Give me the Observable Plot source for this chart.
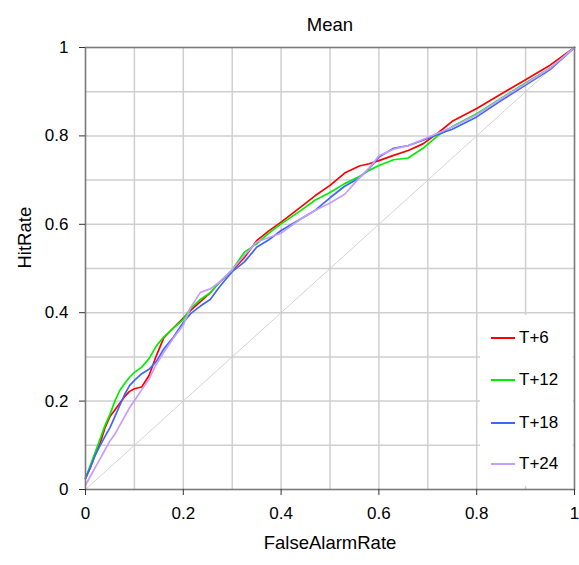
<!DOCTYPE html>
<html>
<head>
<meta charset="utf-8">
<script src="https://cdn.jsdelivr.net/npm/d3@7"></script>
<script src="https://cdn.jsdelivr.net/npm/@observablehq/plot@0.6"></script>
<style>
  html, body { margin: 0; padding: 0; background: #fff; }
  #wrap { position: relative; width: 579px; height: 565px; font-family: "Liberation Sans", Arial, sans-serif; }
  #legend { position: absolute; left: 480px; top: 315px; width: 93px; height: 171px; background: #fff; }
  .item { position: absolute; left: 0; height: 20px; display: flex; align-items: center; font-size: 17px; color: #000; }
  .sw { width: 24px; height: 2px; margin-left: 11px; margin-right: 4px; }
</style>
</head>
<body>
<div id="wrap"><div id="legend"></div></div>
<script>
const title = "Mean";
const xLabel = "FalseAlarmRate";
const yLabel = "HitRate";
const seriesNames = ["T+6", "T+12", "T+18", "T+24"];
const seriesColors = ["#ff0000", "#00ee00", "#3d66ff", "#c69dff"];
const tickValues = [0, 0.2, 0.4, 0.6, 0.8, 1];
const tickLabels = ["0", "0.2", "0.4", "0.6", "0.8", "1"];
const gridValues = [0.1, 0.2, 0.3, 0.4, 0.5, 0.6, 0.7, 0.8, 0.9];
const diagX = [0, 1];
const diagY = [0, 1];

const falseAlarm = [0, 0.01, 0.02, 0.03, 0.04, 0.05, 0.06, 0.07, 0.08, 0.09, 0.1, 0.115, 0.13, 0.145, 0.16, 0.18, 0.2, 0.215, 0.235, 0.255, 0.275, 0.3, 0.325, 0.35, 0.375, 0.4, 0.44, 0.47, 0.5, 0.53, 0.56, 0.58, 0.6, 0.63, 0.66, 0.69, 0.72, 0.75, 0.8, 0.85, 0.9, 0.95, 1];
const hitT6  = [0.025, 0.05, 0.08, 0.105, 0.14, 0.165, 0.18, 0.195, 0.21, 0.222, 0.228, 0.232, 0.258, 0.303, 0.343, 0.366, 0.388, 0.405, 0.425, 0.445, 0.47, 0.495, 0.525, 0.563, 0.585, 0.605, 0.639, 0.665, 0.688, 0.716, 0.732, 0.737, 0.744, 0.756, 0.767, 0.782, 0.806, 0.833, 0.862, 0.895, 0.927, 0.96, 1];
const hitT12 = [0.025, 0.055, 0.085, 0.115, 0.145, 0.17, 0.2, 0.224, 0.24, 0.254, 0.265, 0.277, 0.296, 0.325, 0.345, 0.365, 0.385, 0.41, 0.43, 0.445, 0.47, 0.497, 0.537, 0.556, 0.58, 0.601, 0.631, 0.655, 0.672, 0.692, 0.708, 0.722, 0.733, 0.746, 0.75, 0.772, 0.8, 0.821, 0.85, 0.885, 0.92, 0.953, 1];
const hitT18 = [0.025, 0.05, 0.078, 0.1, 0.12, 0.14, 0.165, 0.19, 0.215, 0.235, 0.247, 0.262, 0.272, 0.29, 0.318, 0.345, 0.378, 0.398, 0.415, 0.43, 0.46, 0.493, 0.515, 0.548, 0.565, 0.586, 0.612, 0.632, 0.66, 0.686, 0.705, 0.726, 0.752, 0.772, 0.778, 0.79, 0.803, 0.815, 0.843, 0.88, 0.915, 0.95, 1];
const hitT24 = [0.01, 0.03, 0.05, 0.07, 0.09, 0.11, 0.125, 0.145, 0.165, 0.185, 0.201, 0.226, 0.25, 0.284, 0.31, 0.343, 0.372, 0.412, 0.446, 0.454, 0.47, 0.497, 0.53, 0.56, 0.57, 0.58, 0.612, 0.632, 0.648, 0.668, 0.705, 0.727, 0.755, 0.77, 0.778, 0.792, 0.806, 0.82, 0.848, 0.884, 0.918, 0.953, 1];

const hitSeries = [hitT6, hitT12, hitT18, hitT24];
const rows = [];
hitSeries.forEach((hs, i) => hs.forEach((h, j) => rows.push({fa: falseAlarm[j], hit: h, series: seriesNames[i]})));
const diag = diagX.map((x, i) => ({fa: x, hit: diagY[i]}));

const fmt = d => tickLabels[tickValues.findIndex(v => Math.abs(v - d) < 1e-9)];

const chart = Plot.plot({
  width: 579,
  height: 565,
  marginTop: 47,
  marginLeft: 85,
  marginRight: 5,
  marginBottom: 76,
  style: {fontFamily: "Liberation Sans, Arial, sans-serif", fontSize: "17px", color: "#000", background: "#fff"},
  x: {domain: [0, 1]},
  y: {domain: [0, 1]},
  color: {domain: seriesNames, range: seriesColors},
  marks: [
    Plot.gridX(gridValues, {stroke: "#cfcfcf", strokeOpacity: 1, strokeWidth: 1.5}),
    Plot.gridY(gridValues, {stroke: "#cfcfcf", strokeOpacity: 1, strokeWidth: 1.5}),
    Plot.line(diag, {x: "fa", y: "hit", stroke: "#c8c8c8", strokeWidth: 0.8}),
    Plot.line(rows, {x: "fa", y: "hit", z: "series", stroke: "series", strokeWidth: 1.7}),
    Plot.frame({stroke: "#7a7a7a", strokeWidth: 1.6}),
    Plot.axisX(tickValues, {tickSize: 6, tickPadding: 11, tickFormat: fmt, label: null, stroke: "#333", fontSize: 17}),
    Plot.axisY(tickValues, {tickSize: 6, tickPadding: 11, tickFormat: fmt, label: null, stroke: "#333", fontSize: 17}),
    Plot.text([title], {frameAnchor: "top", dy: -30, fontSize: 18.5, fill: "#000"}),
    Plot.text([xLabel], {frameAnchor: "bottom", dy: 59, fontSize: 18.5, fill: "#000"}),
    Plot.text([yLabel], {frameAnchor: "left", dx: -60, rotate: -90, fontSize: 18.5, fill: "#000"})
  ]
});
document.getElementById("wrap").prepend(chart);

const legend = document.getElementById("legend");
const rowTops = [13, 55, 98, 139];
seriesNames.forEach((name, i) => {
  const it = document.createElement("div");
  it.className = "item";
  it.style.top = rowTops[i] + "px";
  const sw = document.createElement("span");
  sw.className = "sw";
  sw.style.background = seriesColors[i];
  const tx = document.createElement("span");
  tx.textContent = name;
  it.append(sw, tx);
  legend.append(it);
});
</script>
</body>
</html>
